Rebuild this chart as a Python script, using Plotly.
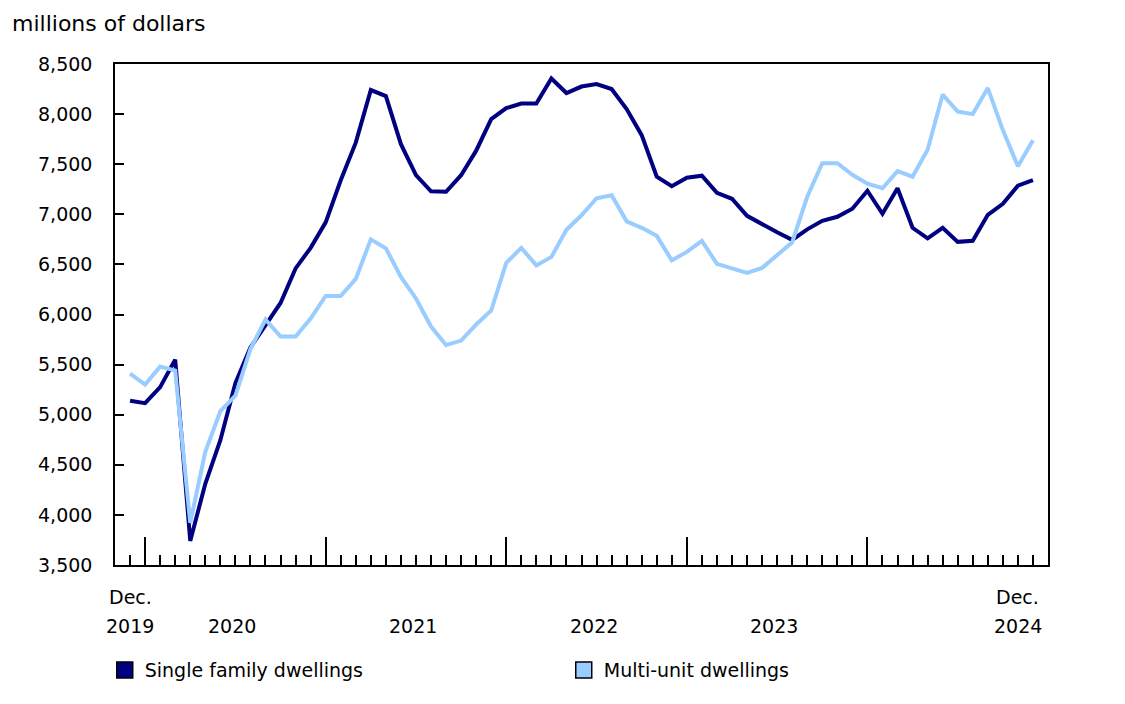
import plotly.graph_objects as go

# monthly values, Dec 2019 to Dec 2024 (millions of dollars)
months = list(range(61))  # 0 = Dec. 2019
single_family = [5140,
                 5115, 5275, 5550, 3740, 4310, 4745, 5315, 5670, 5890, 6115, 6460, 6665,
                 6920, 7340, 7715, 8240, 8180, 7700, 7390, 7230, 7225, 7390, 7635, 7950,
                 8060, 8105, 8105, 8355, 8210, 8275, 8300, 8250, 8050, 7790, 7375, 7280,
                 7365, 7385, 7215, 7155, 6985, 6900, 6820, 6745, 6850, 6935, 6975, 7055,
                 7235, 7005, 7260, 6865, 6760, 6865, 6725, 6735, 6995, 7105, 7285, 7340]
multi_unit = [5410,
              5300, 5480, 5440, 3920, 4630, 5035, 5190, 5655, 5950, 5780, 5780, 5960,
              6185, 6185, 6355, 6750, 6660, 6375, 6160, 5880, 5695, 5740, 5900, 6040,
              6515, 6665, 6490, 6575, 6845, 6990, 7160, 7190, 6930, 6865, 6785, 6540,
              6625, 6735, 6505, 6460, 6415, 6465, 6595, 6720, 7175, 7510, 7510, 7395,
              7305, 7260, 7430, 7375, 7645, 8195, 8025, 8000, 8260, 7840, 7480, 7740]

year_labels = ["2020", "2021", "2022", "2023"]
year_pos = [6.8, 18.8, 30.8, 42.8]
january_ticks = [1, 13, 25, 37, 49]

DARK = "#000080"
LIGHT = "#99CCFF"
FONT = "DejaVu Sans"
SIZE = 19

fig = go.Figure()
fig.add_trace(go.Scatter(x=months, y=single_family, mode="lines",
                         line=dict(color=DARK, width=4), showlegend=False))
fig.add_trace(go.Scatter(x=months, y=multi_unit, mode="lines",
                         line=dict(color=LIGHT, width=4), showlegend=False))

# legend entries drawn as squares
for name, col in [("Single family dwellings", DARK), ("Multi-unit dwellings", LIGHT)]:
    fig.add_trace(go.Scatter(x=[None], y=[None], mode="markers", name=name,
                             marker=dict(symbol="square", size=18, color=col,
                                         line=dict(color="black", width=1.5))))

fig.update_xaxes(range=[-1, 61], tickmode="array", tickvals=january_ticks,
                 showticklabels=False, ticks="inside", ticklen=28, tickwidth=1.5,
                 tickcolor="black", showline=True, linecolor="black", linewidth=1.5,
                 mirror=True, showgrid=False, zeroline=False,
                 minor=dict(tickmode="array", tickvals=months, ticks="inside",
                            ticklen=10, tickwidth=1.5, tickcolor="black", showgrid=False))
fig.update_yaxes(range=[3500, 8500], dtick=500, tickformat=",", ticks="inside",
                 ticklen=9, tickwidth=1.5, tickcolor="black", showline=True,
                 linecolor="black", linewidth=1.5, mirror=True, showgrid=False,
                 zeroline=False, ticklabelstandoff=17,
                 tickfont=dict(family=FONT, size=SIZE, color="black"))

annotations = [dict(text="millions of dollars", xref="paper", yref="paper",
                    x=-0.113, y=1.11, xanchor="left", yanchor="top",
                    showarrow=False, font=dict(family=FONT, size=22, color="black"))]
for txt, xp in [("Dec.", 0), ("Dec.", 59)]:
    annotations.append(dict(text=txt, xref="x", yref="paper", x=xp, y=-0.064,
                            xanchor="center", yanchor="middle", showarrow=False,
                            font=dict(family=FONT, size=SIZE, color="black")))
for txt, xp in zip(["2019"] + year_labels + ["2024"], [0] + year_pos + [59]):
    annotations.append(dict(text=txt, xref="x", yref="paper", x=xp, y=-0.122,
                            xanchor="center", yanchor="middle", showarrow=False,
                            font=dict(family=FONT, size=SIZE, color="black")))

fig.update_layout(
    width=1125, height=704,
    margin=dict(l=107, r=85, t=56, b=147),
    paper_bgcolor="white", plot_bgcolor="white",
    font=dict(family=FONT, size=SIZE, color="black"),
    annotations=annotations,
    legend=dict(orientation="h", x=-0.011, y=-0.21, xanchor="left", yanchor="middle",
                entrywidth=414, entrywidthmode="pixels",
                font=dict(family=FONT, size=SIZE, color="black")),
)

fig.write_html("out.html")
